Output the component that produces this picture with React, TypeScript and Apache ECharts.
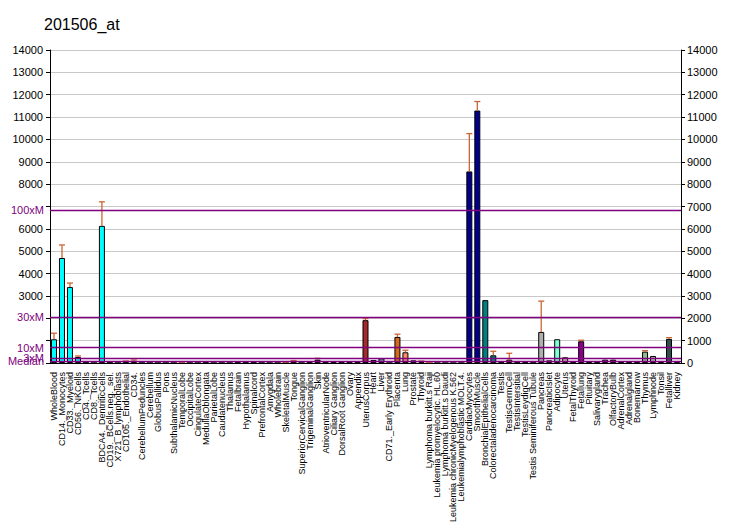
import React, { useEffect, useRef } from "react";
import * as echarts from "echarts";

const categories: string[] = [
  "WholeBlood", "CD14._Monocytes", "CD33._Myeloid", "CD56._NKCells", "CD4._Tcells", "CD8._Tcells",
  "BDCA4._DentriticCells", "CD19._BCells.neg._sel.", "X721_B_lymphoblasts", "CD105._Endothelial", "CD34.",
  "CerebellumPeduncles", "Cerebellum", "GlobusPallidus", "Pons", "SubthalamicNucleus", "TemporalLobe",
  "OccipitalLobe", "CingulateCortex", "MedullaOblongata", "ParietalLobe", "Caudatenucleus", "Thalamus",
  "Fetalbrain", "Hypothalamus", "Spinalcord", "PrefrontalCortex", "Amygdala", "Wholebrain", "SkeletalMuscle",
  "Tongue", "SuperiorCervicalGanglion", "TrigeminalGanglion", "Skin", "AtrioventricularNode", "Ciliary Ganglion",
  "DorsalRoot Ganglion", "Ovary", "Appendix", "UterusCorpus", "Heart", "Liver", "CD71._Early Erythroid",
  "Placenta", "Lung", "Prostate", "Thyroid", "Lymphoma burkitt.s Raji", "Leukemia promyelocytic. HL.60",
  "Lymphoma burkitt.s Daudi", "Leukemia chronicMyelogenous K.562", "Leukemialymphoblastic MOLT.4.",
  "CardiacMyocytes", "SmoothMuscle", "BronchialEpithelialCells", "Colorectaladenocarcinoma", "Testis",
  "TestisGermCell", "TestisIntersitial", "TestisLeydigCell", "Testis Seminiferous Tubule", "Pancreas",
  "PancreaticIslet", "Adipocyte", "Uterus", "FetalThyroid", "Fetallung", "Pituitary", "Salivarygland",
  "Trachea", "OlfactoryBulb", "AdrenalCortex", "Adrenalgland", "Bonemarrow", "Thymus", "Lymphnode",
  "Tonsil", "Fetalliver", "Kidney",
];

const values: number[] = [
  1063, 4697, 3396, 269, 20, 5,
  6133, 20, 5, 75, 75,
  5, 5, 5, 5, 5, 10,
  5, 5, 25, 5, 5, 5,
  25, 25, 25, 5, 5, 5, 20,
  70, 5, 25, 150, 25, 90,
  25, 25, 30, 1915, 135, 210, 5,
  1166, 480, 120, 45, 10, 2,
  2, 2, 2,
  8569, 11292, 2813, 345, 25,
  150, 25, 25, 15, 1390,
  120, 1063, 255, 30, 973, 75, 30,
  150, 150, 30, 30, 30, 507, 314,
  90, 1077, 30,
];

const errors: (number | null)[] = [
  1332, 5280, 3575, 314, null, null,
  7210, null, null, 90, 135,
  null, null, null, null, null, 30,
  null, null, null, null, null, null,
  null, null, null, null, null, null, 40,
  110, null, null, 210, null, null,
  null, null, null, 1988, null, null, null,
  1287, 570, null, 90, 25, null,
  null, null, null,
  10260, 11696, null, 525, null,
  435, null, null, null, 2768,
  null, null, null, null, 1018, null, null,
  null, null, null, null, null, 552, null,
  null, 1135, null,
];

const colors: string[] = [
  "#00FFFF", "#00FFFF", "#00FFFF", "#00FFFF", "#00FFFF", "#00FFFF",
  "#00FFFF", "#00FFFF", "#00FFFF", "#00FFFF", "#00FFFF",
  "#333333", "#333333", "#333333", "#333333", "#333333", "#CC6633",
  "#333333", "#333333", "#4B0033", "#333333", "#333333", "#333333",
  "#4B0033", "#4B0033", "#228B22", "#333333", "#333333", "#333333", "#FF8040",
  "#E9967A", "#333333", "#2F2F4F", "#3B0030", "#2F2F2F", "#2F2F2F",
  "#2F2F2F", "#2F2F2F", "#9932CC", "#A52A2A", "#DEB887", "#6E8FA8", "#333333",
  "#D2691E", "#FF8C69", "#6495ED", "#DC143C", "#CC6633", "#333333",
  "#333333", "#333333", "#333333",
  "#00008B", "#00008B", "#008080", "#008080", "#2F2F2F",
  "#B8860B", "#2F2F2F", "#2F2F2F", "#2F2F2F", "#B0B0B0",
  "#C8A8B8", "#7FFFD4", "#D2B48C", "#800080", "#8B008B", "#556B2F", "#FF8C00",
  "#9932CC", "#8B0000", "#2F4F4F", "#FFA07A", "#A8C8A8", "#8FBC8F", "#A8C0A0",
  "#483D8B", "#2F4F4F", "#333333",
];

const refLines: { name: string; value: number }[] = [
  { name: "100xM", value: 6830 },
  { name: "30xM", value: 2050 },
  { name: "10xM", value: 683 },
  { name: "3xM", value: 205 },
  { name: "Median", value: 68 },
];

const hiddenLeft = [0, 1000, 2000, 7000];

export default function App() {
  const ref = useRef<HTMLDivElement>(null);
  useEffect(() => {
    if (!ref.current) return;
    const chart = echarts.init(ref.current, null, { renderer: "svg" });
    const font = "Liberation Sans, Arial, sans-serif";
    const barData = values.map((v, i) => ({
      value: v,
      itemStyle: { color: colors[i], borderColor: "#000", borderWidth: 1 },
    }));
    const errData: number[][] = [];
    errors.forEach((e, i) => {
      if (e !== null) errData.push([i, values[i], e]);
    });
    chart.setOption({
      animation: false,
      backgroundColor: "#FFFFFF",
      title: {
        text: "201506_at",
        left: 39,
        top: 11,
        textStyle: { fontFamily: font, fontSize: 16, fontWeight: "normal", color: "#000" },
      },
      grid: { left: 50, right: 51, top: 50, bottom: 167, containLabel: false },
      xAxis: {
        type: "category",
        data: categories,
        axisLine: { lineStyle: { color: "#000", width: 1 } },
        axisTick: { alignWithLabel: true, length: 5, lineStyle: { color: "#000" } },
        axisLabel: {
          interval: 0,
          rotate: 90,
          fontSize: 9,
          fontFamily: font,
          color: "#000",
          margin: 9,
        },
      },
      yAxis: [
        {
          type: "value",
          min: 0,
          max: 14000,
          interval: 1000,
          position: "left",
          axisLine: { show: true, lineStyle: { color: "#000" } },
          axisTick: { show: true, length: 4, lineStyle: { color: "#000" } },
          axisLabel: {
            fontSize: 11,
            fontFamily: font,
            color: "#000",
            margin: 7,
            formatter: (v: number) => (hiddenLeft.includes(v) ? "" : String(v)),
          },
          splitLine: { show: true, lineStyle: { color: "#C8C8C8", width: 1 } },
        },
        {
          type: "value",
          min: 0,
          max: 14000,
          interval: 1000,
          position: "right",
          axisLine: { show: true, lineStyle: { color: "#000" } },
          axisTick: { show: true, length: 4, lineStyle: { color: "#000" } },
          axisLabel: {
            fontSize: 11,
            fontFamily: font,
            color: "#000",
            margin: 6,
            formatter: (v: number) => String(v),
          },
          splitLine: { show: false },
        },
      ],
      series: [
        {
          type: "bar",
          data: barData,
          barWidth: 6,
          yAxisIndex: 0,
          z: 3,
          markLine: {
            silent: true,
            symbol: "none",
            lineStyle: { color: "#800080", width: 1.3, type: "solid" },
            label: {
              show: true,
              position: "start",
              distance: 6,
              color: "#800080",
              fontSize: 11,
              fontFamily: font,
              formatter: (p: any) => p.name,
            },
            data: refLines.map((r) => ({ name: r.name, yAxis: r.value })),
          },
        },
        {
          type: "custom",
          yAxisIndex: 0,
          z: 4,
          data: errData,
          encode: { x: 0, y: [1, 2] },
          renderItem: (params: any, api: any) => {
            const idx = api.value(0);
            const base = api.coord([idx, api.value(1)]);
            const top = api.coord([idx, api.value(2)]);
            const style = { stroke: "#CC6633", lineWidth: 1.3 };
            return {
              type: "group",
              children: [
                { type: "line", shape: { x1: base[0], y1: base[1], x2: top[0], y2: top[1] }, style },
                { type: "line", shape: { x1: top[0] - 3, y1: top[1], x2: top[0] + 3, y2: top[1] }, style },
              ],
            };
          },
        },
      ],
    });
    return () => chart.dispose();
  }, []);
  return (
    <div
      ref={ref}
      style={{ position: "fixed", left: 0, top: 0, width: 732, height: 530, background: "#fff" }}
    />
  );
}
